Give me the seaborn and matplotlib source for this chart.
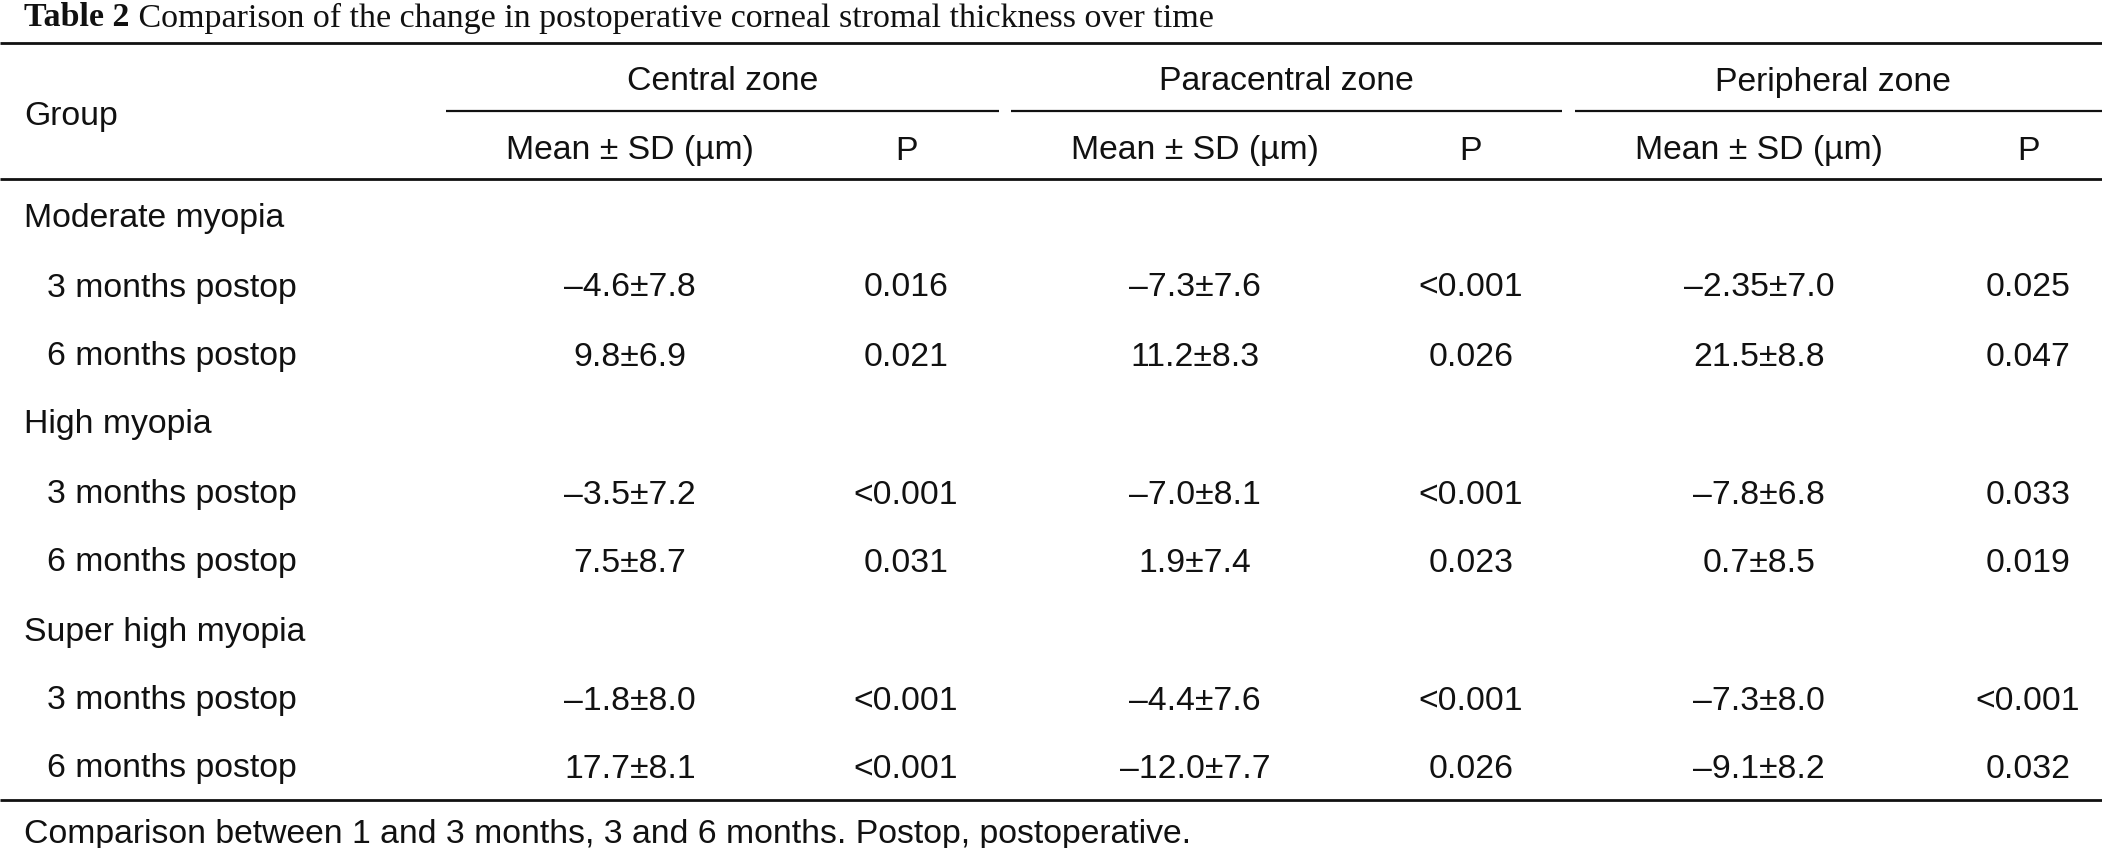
import matplotlib
matplotlib.use("Agg")
import matplotlib.pyplot as plt
import seaborn as sns

# ---------------- data ----------------
title_bold = "Table 2"
title_rest = " Comparison of the change in postoperative corneal stromal thickness over time"
zones = ["Central zone", "Paracentral zone", "Peripheral zone"]
sub_headers = ["Mean ± SD (µm)", "P"]
group_header = "Group"
groups = ["Moderate myopia", "High myopia", "Super high myopia"]
timepoints = ["3 months postop", "6 months postop"]
central_mean_sd = ["–4.6±7.8", "9.8±6.9", "–3.5±7.2", "7.5±8.7", "–1.8±8.0", "17.7±8.1"]
central_p = ["0.016", "0.021", "<0.001", "0.031", "<0.001", "<0.001"]
paracentral_mean_sd = ["–7.3±7.6", "11.2±8.3", "–7.0±8.1", "1.9±7.4", "–4.4±7.6", "–12.0±7.7"]
paracentral_p = ["<0.001", "0.026", "<0.001", "0.023", "<0.001", "0.026"]
peripheral_mean_sd = ["–2.35±7.0", "21.5±8.8", "–7.8±6.8", "0.7±8.5", "–7.3±8.0", "–9.1±8.2"]
peripheral_p = ["0.025", "0.047", "0.033", "0.019", "<0.001", "0.032"]
footnote = "Comparison between 1 and 3 months, 3 and 6 months. Postop, postoperative."

# ---------------- layout ----------------
W, H = 2102, 848
sns.set_theme(style="white")
plt.rcParams["font.family"] = ["Liberation Sans", "DejaVu Sans"]

fig = plt.figure(figsize=(W / 100, H / 100), dpi=100)
ax = fig.add_axes([0, 0, 1, 1])
ax.set_xlim(0, W)
ax.set_ylim(H, 0)
ax.axis("off")

FS = 22.5
TXT = "#111111"
DY = 4  # vertical nudge for text centres

# fit body size to footnote width
t = ax.text(24, 830 + DY, footnote, fontsize=FS, va="center", ha="left", color=TXT)
fig.canvas.draw()
r = fig.canvas.get_renderer()
bb = t.get_window_extent(renderer=r)
FS = FS * 1168 / bb.width
t.set_fontsize(FS)

# title
serif = ["Liberation Serif", "DejaVu Serif"]
TFS = 24.5
tb = ax.text(24, 18, title_bold, fontsize=TFS, fontweight="bold", family=serif,
             va="center", ha="left", color=TXT)
fig.canvas.draw()
bbw = tb.get_window_extent(renderer=r).width
ax.text(24 + bbw, 18, title_rest, fontsize=TFS, family=serif,
        va="center", ha="left", color=TXT)

# rules
def hline(y, x0, x1, lw):
    ax.plot([x0, x1], [y, y], color="#111111", lw=lw, solid_capstyle="butt")

hline(43, 0, W, 2.0)
hline(179, 0, W, 2.0)
hline(800, 0, W, 2.0)
zone_spans = [(446, 999), (1011, 1562), (1575, W)]
for x0, x1 in zone_spans:
    hline(111, x0, x1, 1.6)

# headers
ax.text(24, 112 + DY, group_header, fontsize=FS, va="center", ha="left", color=TXT)
mean_x = [630, 1195, 1759]
p_x = [906, 1471, 2028]
for z, (x0, x1), mx, px in zip(zones, zone_spans, mean_x, p_x):
    ax.text((x0 + x1) / 2 + (0 if x1 < W else -6), 78 + DY, z, fontsize=FS,
            va="center", ha="center", color=TXT)
    ax.text(mx, 147 + DY, sub_headers[0], fontsize=FS, va="center", ha="center", color=TXT)
    ax.text(px, 147 + DY, sub_headers[1], fontsize=FS, va="center", ha="center", color=TXT)

# body
group_y = [214, 421, 629]
row_y = [[284, 353], [491, 559], [697, 765]]
cols = [(central_mean_sd, central_p), (paracentral_mean_sd, paracentral_p),
        (peripheral_mean_sd, peripheral_p)]
k = 0
for gi, g in enumerate(groups):
    ax.text(24, group_y[gi] + DY, g, fontsize=FS, va="center", ha="left", color=TXT)
    for ti, tp in enumerate(timepoints):
        y = row_y[gi][ti] + DY
        ax.text(47, y, tp, fontsize=FS, va="center", ha="left", color=TXT)
        for (ms, ps), mx, px in zip(cols, mean_x, p_x):
            ax.text(mx, y, ms[k], fontsize=FS, va="center", ha="center", color=TXT)
            ax.text(px, y, ps[k], fontsize=FS, va="center", ha="center", color=TXT)
        k += 1

fig.savefig("out.png", dpi=100, facecolor="white")
